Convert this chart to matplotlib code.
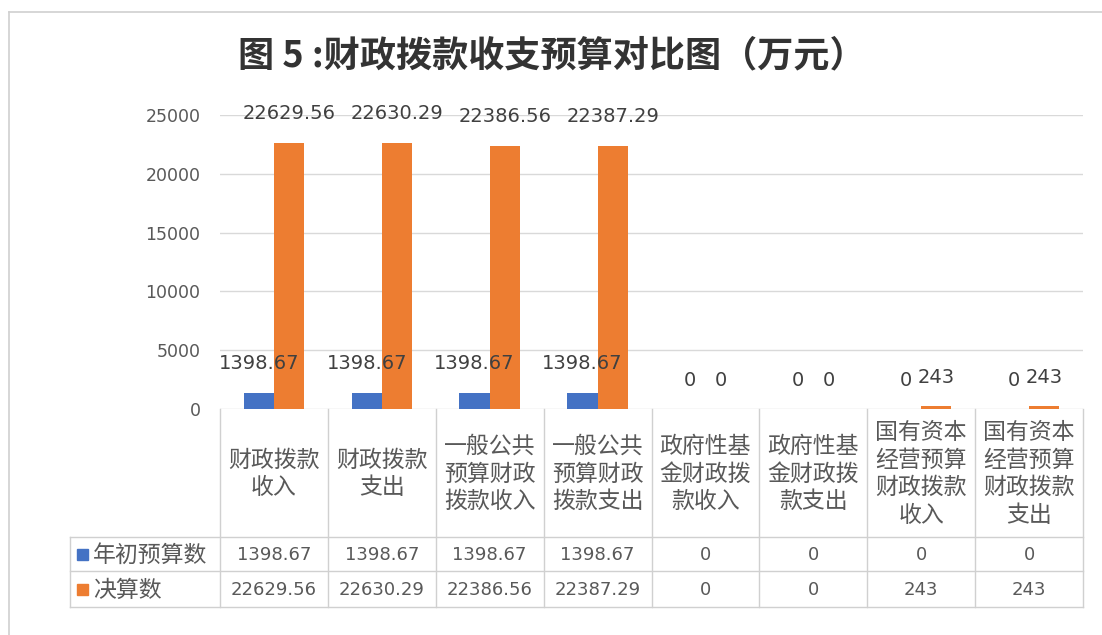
import matplotlib
matplotlib.use("Agg")
import matplotlib.pyplot as plt
from matplotlib.patches import Rectangle
from matplotlib.lines import Line2D
import numpy as np

plt.rcParams['font.family'] = ['Noto Sans CJK SC', 'DejaVu Sans']

title = "图 5 :财政拨款收支预算对比图（万元）"
categories = ["财政拨款\n收入", "财政拨款\n支出", "一般公共\n预算财政\n拨款收入", "一般公共\n预算财政\n拨款支出",
              "政府性基\n金财政拨\n款收入", "政府性基\n金财政拨\n款支出",
              "国有资本\n经营预算\n财政拨款\n收入", "国有资本\n经营预算\n财政拨款\n支出"]
series_names = ["年初预算数", "决算数"]
budget = [1398.67, 1398.67, 1398.67, 1398.67, 0, 0, 0, 0]
final = [22629.56, 22630.29, 22386.56, 22387.29, 0, 0, 243, 243]
value_labels_budget = ["1398.67", "1398.67", "1398.67", "1398.67", "0", "0", "0", "0"]
value_labels_final = ["22629.56", "22630.29", "22386.56", "22387.29", "0", "0", "243", "243"]
yticks = [0, 5000, 10000, 15000, 20000, 25000]

BLUE = "#4472C4"
ORANGE = "#ED7D31"
GRID = "#D9D9D9"
TXT = "#595959"

W, H = 1102, 635
fig = plt.figure(figsize=(W / 100, H / 100), dpi=100)

# pixel layout
ax_l, ax_r, ax_t, ax_b = 220, 1083, 115, 409
ax = fig.add_axes([ax_l / W, 1 - ax_b / H, (ax_r - ax_l) / W, (ax_b - ax_t) / H])
n = len(categories)
x = np.arange(n)
bw = 0.28
bars1 = ax.bar(x - bw / 2, budget, bw, color=BLUE, zorder=2)
bars2 = ax.bar(x + bw / 2, final, bw, color=ORANGE, zorder=2)
ax.set_xlim(-0.5, n - 0.5)
ax.set_ylim(0, 25000)
ax.set_yticks(yticks)
ax.set_yticklabels([str(v) for v in yticks], fontsize=12.5, color=TXT, family='DejaVu Sans')
ax.tick_params(axis='y', length=0, pad=14)
ax.set_xticks([])
for s in ax.spines.values():
    s.set_visible(False)
ax.grid(axis='y', color=GRID, linewidth=1, zorder=0)

for bars, labs in ((bars1, value_labels_budget), (bars2, value_labels_final)):
    for b, lab in zip(bars, labs):
        ax.annotate(lab, (b.get_x() + b.get_width() / 2, b.get_height()),
                    xytext=(0, 29), textcoords='offset pixels', ha='center', va='center',
                    fontsize=14, color="#404040", family='DejaVu Sans', zorder=5)

# overlay for title, table and frame (pixel coordinates)
ov = fig.add_axes([0, 0, 1, 1], facecolor='none')
ov.set_xlim(0, W)
ov.set_ylim(H, 0)
ov.axis('off')

# outer frame
ov.add_line(Line2D([9, 9], [12, H], color="#D0D0D0", lw=1.2))
ov.add_line(Line2D([9, W], [12, 12], color="#D0D0D0", lw=1.2))

ov.text(552, 56, title, ha='center', va='center', fontsize=26, fontweight='bold', color="#333333")

# table
leg_l = 70
r0, r1, r2, r3 = ax_b, 537, 571, 607
cw = (ax_r - ax_l) / n
LC = "#D0D0D0"
for i in range(n + 1):
    xe = ax_l + i * cw
    ov.add_line(Line2D([xe, xe], [r0, r3], color=LC, lw=1))
ov.add_line(Line2D([leg_l, leg_l], [r1, r3], color=LC, lw=1))
for yy in (r1, r2, r3):
    ov.add_line(Line2D([leg_l, ax_r], [yy, yy], color=LC, lw=1))

for i, cat in enumerate(categories):
    cx = ax_l + (i + 0.5) * cw
    ov.text(cx, (r0 + r1) / 2 + 1, cat, ha='center', va='center', fontsize=16.5,
            color=TXT, linespacing=1.25)
    ov.text(cx, (r1 + r2) / 2 + 1, value_labels_budget[i], ha='center', va='center',
            fontsize=13, color=TXT, family='DejaVu Sans')
    ov.text(cx, (r2 + r3) / 2 + 1, value_labels_final[i], ha='center', va='center',
            fontsize=13, color=TXT, family='DejaVu Sans')

for (ya, yb), name, col in (((r1, r2), series_names[0], BLUE), ((r2, r3), series_names[1], ORANGE)):
    yc = (ya + yb) / 2
    ov.add_patch(Rectangle((77, yc - 5), 11, 11, color=col))
    ov.text(93, yc + 1, name, ha='left', va='center', fontsize=16.5, color=TXT)

fig.savefig("out.png", dpi=100)
